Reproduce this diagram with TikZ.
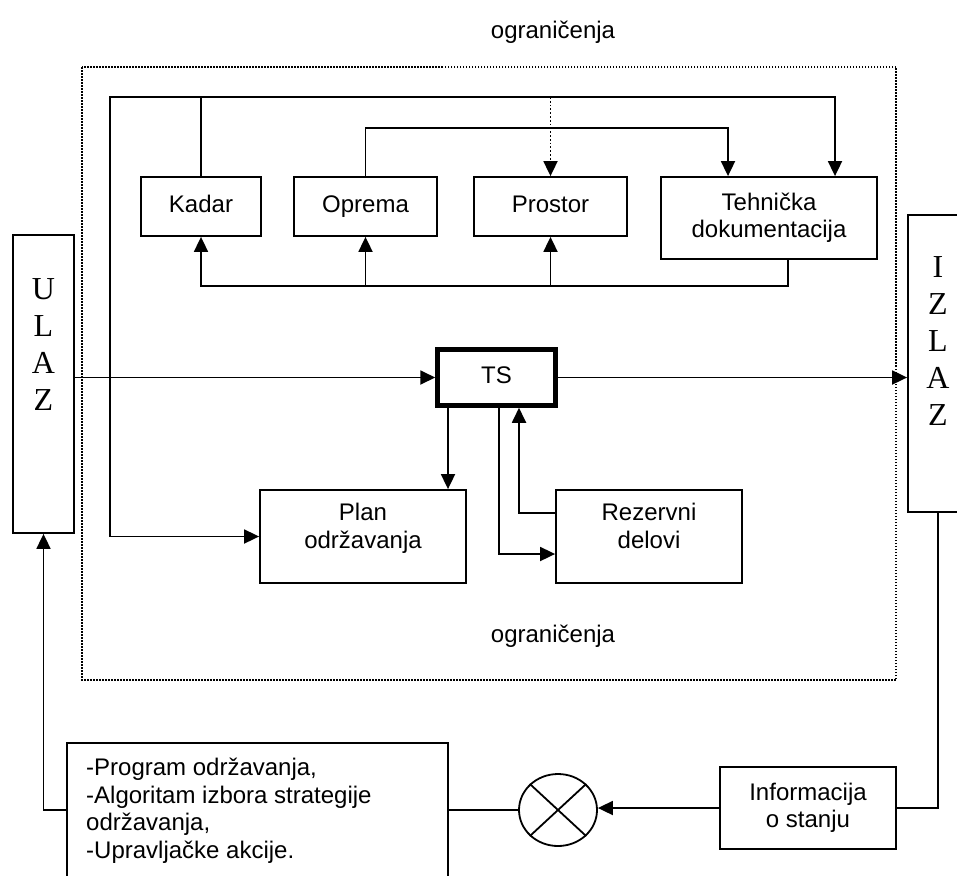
\documentclass[tikz,border=0pt]{standalone}
\usepackage{fontspec}
\setmainfont{Liberation Sans}
\newfontfamily\timesslova{Liberation Serif}
\usetikzlibrary{arrows.meta,shapes.geometric}

\tikzset{
	blok/.style={draw, line width=1.8pt, align=center, inner sep=2pt, font=\fontsize{24}{27.5}\selectfont},
	jedanred/.style={text height=17.5pt, text depth=5pt},
	veza/.style={line width=1.8pt},
	strelica/.style={veza, -{Triangle[length=15pt,width=14pt]}},
	slova/.style={font=\timesslova\fontsize{32}{37}\selectfont, align=center, anchor=north, inner sep=0pt},
	natpis/.style={font=\fontsize{24}{27.5}\selectfont},
}

\begin{document}
\begin{tikzpicture}[x=1pt, y=-1pt]
		%%%%% START %%%%%
		\useasboundingbox (0, 0) rectangle (957, 875);
		\clip (0, 0) rectangle (957, 875);
		
		\node[natpis] (ogr1) at (553, 32) {ograničenja};
		\draw[line width=1.3pt, dash pattern=on 1.5pt off 1.5pt] (82, 67) rectangle (896, 680);
		\node[natpis] (ogr2) at (553, 636) {ograničenja};
		
		\node[blok, jedanred, minimum width=120, minimum height=59] (kadar) at (201, 206.5) {Kadar};
		\node[blok, jedanred, minimum width=143, minimum height=59] (opr) at (365.5, 206.5) {Oprema};
		\node[blok, jedanred, minimum width=153, minimum height=59] (pro) at (550.5, 206.5) {Prostor};
		\node[blok, minimum width=216, minimum height=82] (teh) at (769, 218) {Tehnička\\dokumentacija};
		
		\node[blok, jedanred, line width=4.5pt, minimum width=118, minimum height=56] (ts) at (496.5, 377.5) {TS};
		\node[blok, minimum width=206, minimum height=93] (plan) at (363, 536.5) {Plan\\održavanja\\[-6pt]};
		\node[blok, minimum width=186, minimum height=93] (rez) at (649, 536.5) {Rezervni\\delovi\\[-6pt]};
		
		\node[blok, minimum width=61, minimum height=298] (ulaz) at (43.5, 384) {};
		\node[slova] (ulaztxt) at ([yshift=-44pt]ulaz.north) {U\\L\\A\\Z};
		\node[blok, minimum width=60, minimum height=297] (izlaz) at (938, 363.5) {};
		\node[slova] (izlaztxt) at ([yshift=-42pt]izlaz.north) {I\\Z\\L\\A\\Z};
		
		\node[blok, minimum width=176, minimum height=82] (info) at (808, 808) {Informacija\\o stanju};
		\node[draw, ellipse, veza, minimum width=78, minimum height=72, inner sep=0pt] (komp) at (558, 810) {};
		\draw[veza] (komp.north west) -- (komp.south east);
		\draw[veza] (komp.north east) -- (komp.south west);
		\node[blok, minimum width=381, minimum height=180, anchor=north west] (prog) at (66, 742) {};
		\node[natpis, align=left, anchor=north west, inner sep=0pt] (progtxt) at (86, 758)
			{-Program održavanja,\\-Algoritam izbora strategije\\održavanja,\\-Upravljačke akcije.};
		
		% gornje veze
		\coordinate (g1) at (110, 97);
		\draw[strelica] (kadar.north) -- (kadar.north |- g1) -| ([xshift=66pt]teh.north);
		\draw[strelica] (kadar.north |- g1) -- (g1) |- (plan.west);
		\draw[strelica] (opr.north) -- ++(0, -48) -| ([xshift=-41pt]teh.north);
		\draw[strelica, dotted] (pro.north |- g1) -- (pro.north);
		
		\coordinate (d1) at (0, 286);
		\draw[strelica] ([xshift=19pt]teh.south) |- (kadar.south |- d1) -- (kadar.south);
		\draw[strelica] (opr.south |- d1) -- (opr.south);
		\draw[strelica] (pro.south |- d1) -- (pro.south);
		
		% TS
		\draw[strelica] (ts.west -| ulaz.east) -- (ts.west);
		\draw[strelica] (ts.east) -- (ts.east -| izlaz.west);
		\draw[strelica] ([xshift=-48.5pt]ts.south) -- ([xshift=-48.5pt]ts.south |- plan.north);
		\draw[strelica] ([xshift=2.5pt]ts.south) |- ([yshift=-17.5pt]rez.west);
		\draw[strelica] ([yshift=23.5pt]rez.west) -| ([xshift=22.5pt]ts.south);
		
		% povratna sprega
		\draw[veza] (izlaz.south) |- (info.east);
		\draw[strelica] (info.west) -- (info.west -| komp.east);
		\draw[veza] (komp.west) -- (prog.east |- komp.west);
		\draw[strelica] (prog.west |- komp.west) -| (ulaz.south);
		
		%%%%% END %%%%%
	\end{tikzpicture}
\end{document}
